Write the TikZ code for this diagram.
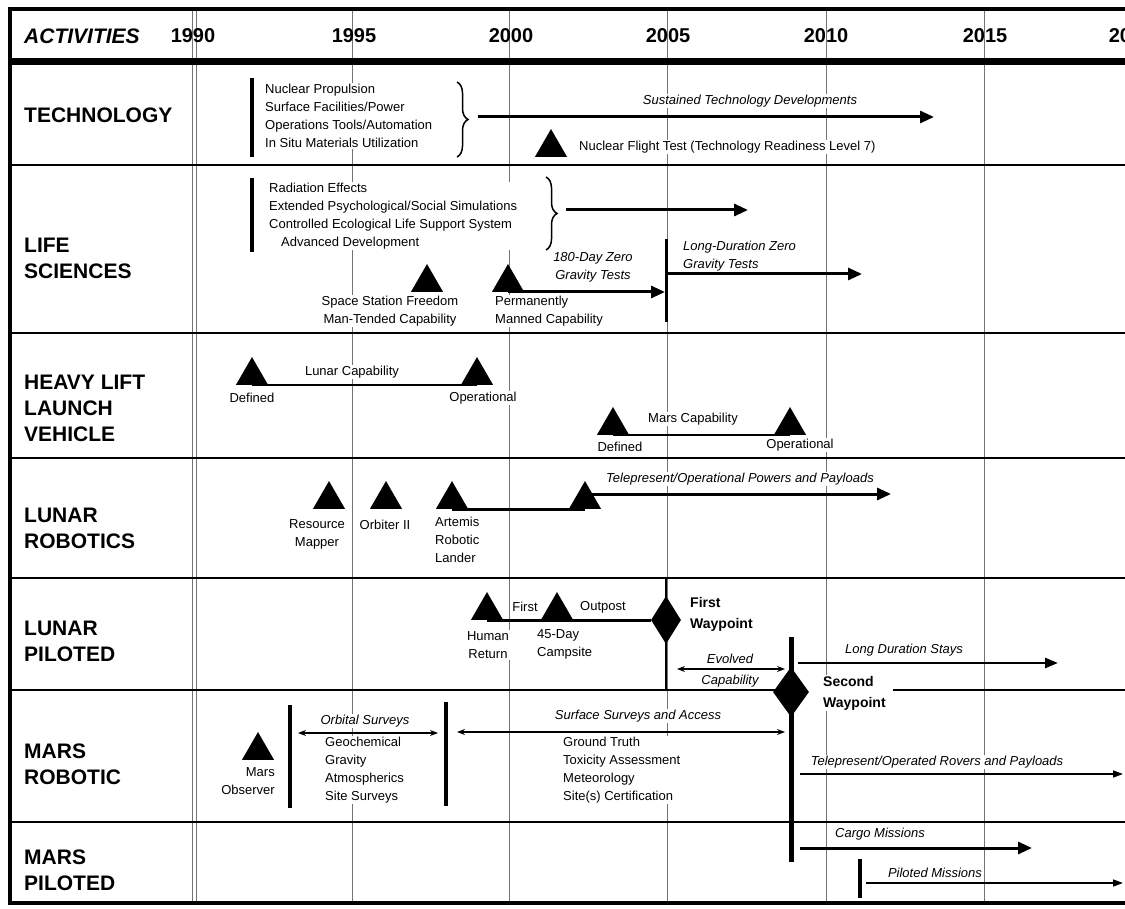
\documentclass[tikz,border=0pt]{standalone}
\usepackage{fontspec}
\setmainfont{Liberation Sans}
\usetikzlibrary{shapes.geometric,arrows.meta,decorations.pathreplacing}
\begin{document}
\begin{tikzpicture}[x=1pt,y=-1pt,
  txt/.style={font=\fontsize{13}{18}\selectfont, inner sep=1pt, fill=white, align=left},
  itxt/.style={txt, font=\fontsize{13}{18}\selectfont\itshape},
  rowlab/.style={font=\fontsize{21}{26}\selectfont\bfseries, anchor=west, align=left, inner sep=0pt},
  yearlab/.style={font=\fontsize{20}{24}\selectfont\bfseries, inner sep=0pt},
  wplab/.style={font=\fontsize{14}{21}\selectfont\bfseries, anchor=west, align=left, inner sep=1pt, fill=white},
  tri/.style={regular polygon, regular polygon sides=3, minimum size=37pt, inner sep=0pt, fill=black, anchor=south},
  dia/.style={diamond, fill=black, inner sep=0pt},
  gridline/.style={black!55, line width=0.8pt},
  divider/.style={line width=2.5pt},
  vbar/.style={line width=4pt},
  bigarrow/.style={line width=3pt, -{Triangle[length=14pt,width=12pt]}},
  thinarrow/.style={line width=1.5pt, -{Triangle[length=10pt,width=7pt]}},
  dblarrow/.style={line width=1.2pt, {Stealth[length=8pt,width=6pt]}-{Stealth[length=8pt,width=6pt]}},
  conn/.style={line width=2.5pt},
  bracestyle/.style={line width=1.5pt, decorate, decoration={brace, amplitude=11pt}}
]
\useasboundingbox (0,0) rectangle (1125,909);
\clip (0,0) rectangle (1125,909);
\fill[white] (0,0) rectangle (1125,909);

% ---------- grid ----------
\foreach \gx in {352,509,667,826,984} \draw[gridline] (\gx,10) -- (\gx,903);
\draw[gridline] (192,10) -- (192,903);
\draw[gridline] (196,10) -- (196,903);

% ---------- frame & dividers ----------
\draw[line width=3.5pt] (8,9) -- (1125,9);
\draw[line width=4.5pt] (10,8) -- (10,905);
\draw[line width=7pt] (8,62) -- (1125,62);
\draw[divider] (10,165) -- (1125,165);
\draw[divider] (10,333) -- (1125,333);
\draw[divider] (10,458) -- (1125,458);
\draw[divider] (10,578) -- (1125,578);
\draw[divider] (10,690) -- (780,690);
\draw[divider] (893,690) -- (1125,690);
\draw[divider] (10,822) -- (1125,822);
\draw[line width=4pt] (8,903) -- (1125,903);

% ---------- header ----------
\node[anchor=west, font=\fontsize{21}{24}\selectfont\bfseries\itshape, inner sep=0pt] (act) at (24,36) {ACTIVITIES};
\node[yearlab] (y1990) at (193,36) {1990};
\node[yearlab] (y1995) at (354,36) {1995};
\node[yearlab] (y2000) at (511,36) {2000};
\node[yearlab] (y2005) at (668,36) {2005};
\node[yearlab] (y2010) at (826,36) {2010};
\node[yearlab] (y2015) at (985,36) {2015};
\node[yearlab] (y2020) at (1131,36) {2020};

% ---------- row labels ----------
\node[rowlab] (rtech) at (24,115) {TECHNOLOGY};
\node[rowlab] (rlife) at (24,258) {LIFE\\SCIENCES};
\node[rowlab] (rhl) at (24,408) {HEAVY LIFT\\LAUNCH\\VEHICLE};
\node[rowlab] (rlr) at (24,528) {LUNAR\\ROBOTICS};
\node[rowlab] (rlp) at (24,641) {LUNAR\\PILOTED};
\node[rowlab] (rmr) at (24,764) {MARS\\ROBOTIC};
\node[rowlab] (rmp) at (24,870) {MARS\\PILOTED};

% ---------- Technology ----------
\draw[vbar] (252,78) -- (252,157);
\node[txt, anchor=west] (techlist) at (264,116) {Nuclear Propulsion\\Surface Facilities/Power\\Operations Tools/Automation\\In Situ Materials Utilization};
\draw[bracestyle] (457,82) -- (457,157);
\coordinate (techb) at (478,117);
\coordinate (teche) at (934,117);
\draw[bigarrow] (techb) -- (teche);
\node[itxt] (techlab) at (750,101) {Sustained Technology Developments};
\node[tri] (nft) at (551,157) {};
\node[txt, anchor=west] (nftlab) at (578,147) {Nuclear Flight Test (Technology Readiness Level 7)};

% ---------- Life sciences ----------
\draw[vbar] (252,178) -- (252,252);
\node[txt, anchor=west] (lslist) at (268,216) {Radiation Effects\\Extended Psychological/Social Simulations\\Controlled Ecological Life Support System\\\hspace*{12pt}Advanced Development};
\draw[bracestyle] (546,177) -- (546,250);
\coordinate (lsb) at (566,210);
\coordinate (lse) at (748,210);
\draw[bigarrow] (lsb) -- (lse);
\node[tri] (ssf) at (427,292) {};
\node[txt, align=center] (ssflab) at (390,311) {Space Station Freedom\\Man-Tended Capability};
\node[tri] (pmc) at (508,292) {};
\node[txt, anchor=west] (pmclab) at (494,311) {Permanently\\Manned Capability};
\coordinate (ls05top) at (666,239);
\coordinate (ls05bot) at (666,322);
\draw[line width=3pt] (ls05top) -- (ls05bot);
\coordinate (ls05) at (665,292);
\draw[bigarrow] (pmc.south) -- (ls05);
\node[itxt, align=center] (zg180) at (593,267) {180-Day Zero\\Gravity Tests};
\node[itxt, anchor=west] (ldzg) at (682,256) {Long-Duration Zero\\Gravity Tests};
\coordinate (ldb) at (668,274);
\coordinate (lde) at (862,274);
\draw[bigarrow] (ldb) -- (lde);

% ---------- Heavy lift ----------
\node[tri] (hl1) at (252,385) {};
\node[tri] (hl2) at (477,385) {};
\draw[conn] (hl1.south) -- (hl2.south);
\node[txt] (hl1lab) at (252,398) {Defined};
\node[txt] (hl2lab) at (483,398) {Operational};
\node[txt] (lunarcap) at (352,372) {Lunar Capability};
\node[tri] (hl3) at (613,435) {};
\node[tri] (hl4) at (790,435) {};
\draw[conn] (hl3.south) -- (hl4.south);
\node[txt] (hl3lab) at (620,447) {Defined};
\node[txt] (hl4lab) at (800,445) {Operational};
\node[txt] (marscap) at (693,419) {Mars Capability};

% ---------- Lunar robotics ----------
\node[tri] (rm) at (329,509) {};
\node[tri] (orb) at (386,509) {};
\node[tri] (art) at (452,509) {};
\node[tri] (lr4) at (585,509) {};
\node[txt, align=center] (rmlab) at (317,534) {Resource\\Mapper};
\node[txt] (orblab) at (385,525) {Orbiter II};
\node[txt, anchor=north west] (artlab) at (434,516) {Artemis\\Robotic\\Lander};
\draw[line width=3pt] (art.south) -- (lr4.south);
\coordinate (lrb) at (585,494);
\coordinate (lre) at (891,494);
\draw[bigarrow] (lrb) -- (lre);
\node[itxt] (lrlab) at (740,479) {Telepresent/Operational Powers and Payloads};

% ---------- Lunar piloted ----------
\coordinate (fwtop) at (666,578);
\coordinate (fwbot) at (666,690);
\draw[line width=2pt] (fwtop) -- (fwbot);
\node[tri] (hr) at (487,620) {};
\node[tri] (camp) at (557,620) {};
\node[dia, minimum width=30pt, minimum height=48pt] (fw) at (666,620) {};
\draw[line width=3pt] (hr.south) -- (fw.west);
\node[txt] (firstlab) at (525,607) {First};
\node[txt] (outpostlab) at (603,607) {Outpost};
\node[txt, align=center] (hrlab) at (488,645) {Human\\Return};
\node[txt, anchor=west] (camplab) at (536,644) {45-Day\\Campsite};
\node[wplab] (fwlab) at (689,614) {First\\Waypoint};
\node[itxt] (evo1) at (730,659) {Evolved};
\node[itxt] (evo2) at (730,681) {Capability};
\coordinate (evb) at (677,669);
\coordinate (eve) at (785,669);
\draw[dblarrow] (evb) -- (eve);
\coordinate (swtop) at (791,637);
\coordinate (swbot) at (791,862);
\draw[line width=5pt] (swtop) -- (swbot);
\node[dia, minimum width=36pt, minimum height=50pt] (sw) at (791,692) {};
\node[wplab] (swlab) at (822,693) {Second\\Waypoint};
\coordinate (lsdb) at (798,663);
\coordinate (lsde) at (1058,663);
\draw[line width=2.5pt, -{Triangle[length=13pt,width=10pt]}] (lsdb) -- (lsde);
\node[itxt] (lsdlab) at (904,650) {Long Duration Stays};

% ---------- Mars robotic ----------
\node[tri] (mo) at (258,760) {};
\node[txt, align=right, anchor=north east] (molab) at (276,766) {Mars\\Observer};
\draw[vbar] (290,705) -- (290,808);
\node[itxt] (orbslab) at (365,721) {Orbital Surveys};
\coordinate (osb) at (298,733);
\coordinate (ose) at (438,733);
\draw[dblarrow] (osb) -- (ose);
\node[txt, anchor=north west] (oslist) at (324,736) {Geochemical\\Gravity\\Atmospherics\\Site Surveys};
\draw[vbar] (446,702) -- (446,806);
\node[itxt] (surflab) at (638,716) {Surface Surveys and Access};
\coordinate (ssb) at (457,732);
\coordinate (sse) at (785,732);
\draw[dblarrow] (ssb) -- (sse);
\node[txt, anchor=north west] (sslist) at (562,736) {Ground Truth\\Toxicity Assessment\\Meteorology\\Site(s) Certification};
\node[itxt] (teleroblab) at (937,762) {Telepresent/Operated Rovers and Payloads};
\coordinate (trb) at (800,774);
\coordinate (tre) at (1123,774);
\draw[thinarrow] (trb) -- (tre);

% ---------- Mars piloted ----------
\node[itxt] (cargolab) at (880,834) {Cargo Missions};
\coordinate (cmb) at (800,848);
\coordinate (cme) at (1032,848);
\draw[bigarrow] (cmb) -- (cme);
\draw[vbar] (860,859) -- (860,898);
\node[itxt] (pilotlab) at (935,873) {Piloted Missions};
\coordinate (pmb) at (866,883);
\coordinate (pme) at (1123,883);
\draw[thinarrow] (pmb) -- (pme);
\end{tikzpicture}
\end{document}
